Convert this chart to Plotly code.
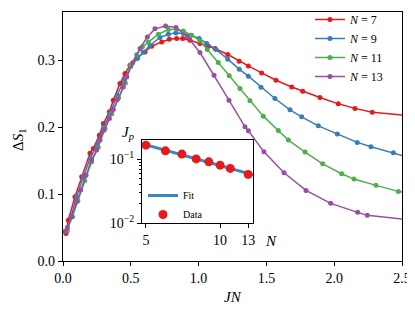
import numpy as np
import plotly.graph_objects as go

# ---------------- data ----------------
x7 = [0.022, 0.039, 0.088, 0.138, 0.199, 0.224, 0.268, 0.298, 0.342, 0.371, 0.420, 0.457, 0.494,
      0.545, 0.605, 0.654, 0.728, 0.784, 0.838, 0.883, 0.937, 1.010, 1.072, 1.121, 1.215, 1.300,
      1.367, 1.465, 1.571, 1.687, 1.768, 1.895, 2.030, 2.153, 2.281, 2.600]
y7 = [0.041, 0.061, 0.096, 0.126, 0.161, 0.168, 0.188, 0.2055, 0.223, 0.240, 0.265, 0.280, 0.2925,
      0.303, 0.3124, 0.3209, 0.3273, 0.3313, 0.3324, 0.3324, 0.3299, 0.3249, 0.3209, 0.3175, 0.3085,
      0.2985, 0.2915, 0.281, 0.270, 0.260, 0.2537, 0.2443, 0.2348, 0.228, 0.2224, 0.216]

x9 = [0.030, 0.060, 0.100, 0.150, 0.200, 0.250, 0.300, 0.350, 0.400, 0.450, 0.500, 0.550, 0.592,
      0.642, 0.715, 0.777, 0.833, 0.887, 0.942, 1.005, 1.060, 1.128, 1.215, 1.300, 1.367, 1.460,
      1.563, 1.674, 1.760, 1.883, 2.023, 2.170, 2.271, 2.436, 2.600]
y9 = [0.045, 0.068, 0.096, 0.126, 0.153, 0.174, 0.200, 0.222, 0.248, 0.270, 0.291, 0.303, 0.312,
      0.322, 0.334, 0.3388, 0.3408, 0.3398, 0.3373, 0.3324, 0.3249, 0.316, 0.3015, 0.2864, 0.2761,
      0.2597, 0.2428, 0.2258, 0.2154, 0.2019, 0.1896, 0.1772, 0.1706, 0.1616, 0.152]

x11 = [0.030, 0.070, 0.110, 0.160, 0.210, 0.260, 0.310, 0.360, 0.410, 0.460, 0.500, 0.543, 0.585,
       0.629, 0.703, 0.777, 0.838, 0.887, 0.949, 1.010, 1.064, 1.145, 1.226, 1.305, 1.379, 1.477,
       1.588, 1.662, 1.785, 1.915, 2.055, 2.146, 2.308, 2.473, 2.600]
y11 = [0.046, 0.066, 0.090, 0.120, 0.148, 0.170, 0.198, 0.220, 0.244, 0.266, 0.293, 0.308, 0.320,
       0.327, 0.3388, 0.3458, 0.3458, 0.3437, 0.3373, 0.329, 0.316, 0.2965, 0.2766, 0.2578, 0.2393,
       0.2164, 0.1950, 0.1806, 0.1627, 0.1452, 0.1303, 0.1224, 0.1130, 0.1040, 0.100]

x13 = [0.015, 0.032, 0.064, 0.101, 0.130, 0.170, 0.211, 0.248, 0.273, 0.302, 0.342, 0.371, 0.401,
       0.445, 0.470, 0.514, 0.568, 0.622, 0.678, 0.757, 0.833, 0.917, 1.010, 1.114, 1.224, 1.342,
       1.367, 1.482, 1.630, 1.792, 1.974, 2.173, 2.244, 2.600]
y13 = [0.044, 0.050, 0.066, 0.0885, 0.106, 0.128, 0.151, 0.1657, 0.1806, 0.1955, 0.213, 0.2264,
       0.2413, 0.260, 0.275, 0.296, 0.3175, 0.3348, 0.3468, 0.3512, 0.3488, 0.335, 0.3115, 0.2776,
       0.2403, 0.2005, 0.1945, 0.1631, 0.1318, 0.1055, 0.0861, 0.0727, 0.0682, 0.0605]

series_names = ["<i>N</i> = 7", "<i>N</i> = 9", "<i>N</i> = 11", "<i>N</i> = 13"]
series_colors = ["#e41a1c", "#377eb8", "#4daf4a", "#984ea3"]

# inset data
N_inset = [5, 6, 7, 8, 9, 10, 11, 13]
Jp_inset = [0.1655, 0.135, 0.120, 0.101, 0.0908, 0.0806, 0.0716, 0.0577]
inset_xrange = [4.82, 13.6]

x_ticks = [0.0, 0.5, 1.0, 1.5, 2.0, 2.5]
y_ticks = [0.0, 0.1, 0.2, 0.3]

FONT = "Liberation Serif, DejaVu Serif, Times New Roman, serif"

fig = go.Figure()
for xs, ys, name, col in zip([x7, x9, x11, x13], [y7, y9, y11, y13], series_names, series_colors):
    fig.add_trace(go.Scatter(x=xs, y=ys, mode="lines+markers", name=name,
                             line=dict(color=col, width=1.5),
                             marker=dict(color=col, size=5),
                             xaxis="x", yaxis="y", legend="legend"))

# power-law fit of the inset data
slope, icpt = np.polyfit(np.log10(N_inset), np.log10(Jp_inset), 1)
fit_x = np.array(inset_xrange)
fit_y = 10 ** (icpt + slope * np.log10(fit_x))
fig.add_trace(go.Scatter(x=fit_x, y=fit_y, mode="lines", name="Fit",
                         line=dict(color="#3a87c6", width=3),
                         xaxis="x2", yaxis="y2", legend="legend2"))
fig.add_trace(go.Scatter(x=N_inset, y=Jp_inset, mode="markers", name="Data",
                         marker=dict(color="#e41a1c", size=9),
                         xaxis="x2", yaxis="y2", legend="legend2"))

# the page body has an 8px margin, so the figure sits at (8, 8) in the window
OFF = 8
W, H = 415 - OFF, 312 - 2 * OFF
# plot area in window pixels (reference): x 63..402, y 12..261
PL, PR, PT, PB = 63, 402, 12, 261
pw, ph = PR - PL, PB - PT


def px2paper_x(px):
    return (px - PL) / pw


def px2paper_y(py):
    return (PB - py) / ph


ax_common = dict(showline=True, linecolor="black", linewidth=1.2, mirror=True,
                 ticks="outside", ticklen=4, tickwidth=1, tickcolor="black",
                 showgrid=False, zeroline=False, automargin=False,
                 tickfont=dict(family=FONT, size=14, color="black"))

minor_y = [a * 10.0 ** e for e in (-2, -1) for a in range(2, 10) if a * 10.0 ** e < 0.2]

fig.update_layout(
    width=W, height=H,
    margin=dict(l=PL - OFF, r=W - (PR - OFF), t=PT - OFF, b=H - (PB - OFF), autoexpand=False),
    paper_bgcolor="white", plot_bgcolor="white",
    font=dict(family=FONT, size=14, color="black"),
    xaxis=dict(range=[0, 2.5], tickvals=x_ticks, ticktext=[f"{v:.1f}" for v in x_ticks],
               domain=[0, 1], **ax_common),
    yaxis=dict(range=[0, 0.372], tickvals=y_ticks, ticktext=[f"{v:.1f}" for v in y_ticks],
               domain=[0, 1], **ax_common),
    xaxis2=dict(type="log", range=[np.log10(inset_xrange[0]), np.log10(inset_xrange[1])],
                tickvals=[5, 10, 13], ticktext=["5", "10", "13"],
                domain=[px2paper_x(142), px2paper_x(253)], anchor="y2", **ax_common),
    yaxis2=dict(type="log", range=[-2, -0.70],
                tickvals=[0.01, 0.1], ticktext=["10<sup>−2</sup>", "10<sup>−1</sup>"],
                minor=dict(tickvals=minor_y, ticks="outside", ticklen=2, tickcolor="black", showgrid=False),
                domain=[px2paper_y(223), px2paper_y(140)], anchor="x2", **ax_common),
    legend=dict(x=px2paper_x(310), y=px2paper_y(5), xanchor="left", yanchor="top",
                bgcolor="rgba(0,0,0,0)", borderwidth=0,
                font=dict(family=FONT, size=12), tracegroupgap=0, itemwidth=30),
    legend2=dict(x=px2paper_x(143), y=px2paper_y(181), xanchor="left", yanchor="top",
                 bgcolor="rgba(0,0,0,0)", borderwidth=0,
                 font=dict(family=FONT, size=10), tracegroupgap=0, itemwidth=30),
    showlegend=True,
)

# axis titles and inset labels
ann = dict(xref="paper", yref="paper", showarrow=False, xanchor="center", yanchor="middle")
fig.add_annotation(text="<i>JN</i>", x=0.5, y=px2paper_y(297),
                   font=dict(family=FONT, size=15, color="black"), **ann)
fig.add_annotation(text="Δ<i>S</i><sub>1</sub>", x=px2paper_x(19), y=px2paper_y(140), textangle=-90,
                   font=dict(family=FONT, size=15, color="black"), **ann)
fig.add_annotation(text="<i>J<sub>p</sub></i>", x=px2paper_x(128), y=px2paper_y(133),
                   font=dict(family=FONT, size=15, color="black"), **ann)
fig.add_annotation(text="<i>N</i>", x=px2paper_x(271), y=px2paper_y(241),
                   font=dict(family=FONT, size=15, color="black"), **ann)

fig.write_html("out.html")
